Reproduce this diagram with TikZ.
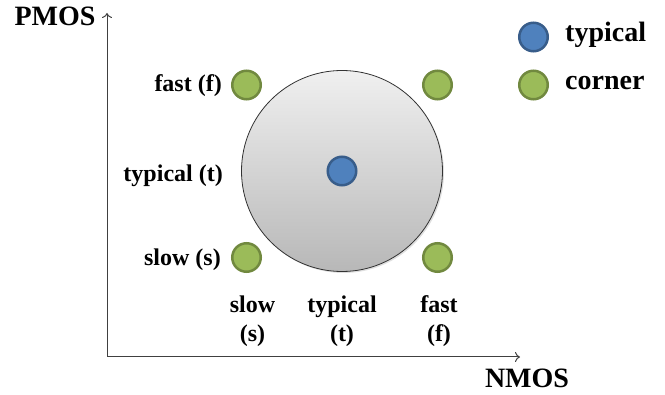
\documentclass[tikz,border=0pt]{standalone}
\usepackage{fontspec}
\setmainfont{Liberation Serif}
\usetikzlibrary{arrows.meta,shadows}
\definecolor{cgreen}{HTML}{9BBB59}
\definecolor{cgreenD}{HTML}{71893F}
\definecolor{cblue}{HTML}{4F81BD}
\definecolor{cblueD}{HTML}{385D8A}
\definecolor{axisgray}{HTML}{404040}
\tikzset{
  corner/.style={circle, fill=cgreen, draw=cgreenD, line width=2.5pt, minimum size=28.5pt, inner sep=0pt},
  typdot/.style={circle, fill=cblue, draw=cblueD, line width=2.5pt, minimum size=28.5pt, inner sep=0pt},
  lbl/.style={font=\fontsize{24}{29}\selectfont\bfseries, inner sep=0pt},
  big/.style={font=\fontsize{28}{32}\selectfont\bfseries, inner sep=0pt},
  axis/.style={draw=axisgray, line width=1pt, -{To[length=5pt,width=10pt]}},
}
\begin{document}
\begin{tikzpicture}[x=1pt,y=-1pt]
\useasboundingbox (0,0) rectangle (665,395);
% axes
\coordinate (O) at (107,357);
\coordinate (ytip) at (107,13);
\coordinate (xtip) at (520,357);
\draw[axis] (O) -- (ytip);
\draw[axis] (O) -- (xtip);
\node[big, anchor=base] (pmos) at (55,26) {PMOS};
\node[big, anchor=base] (nmos) at (527,388) {NMOS};
% big circle
\node[circle, minimum size=201pt, inner sep=0pt, draw=black!80, line width=0.8pt,
      top color=white!94!black, bottom color=white!72!black,
      drop shadow={opacity=0.25, shadow xshift=1.5pt, shadow yshift=-1.5pt}] (spread) at (342,171) {};
% dots
\node[typdot] (tt) at (342,171) {};
\node[corner] (ff) at (437.5,85) {};
\node[corner] (sf) at (246.5,85) {};
\node[corner] (ss) at (246.5,257.5) {};
\node[corner] (fs) at (437.5,257.5) {};
% left labels
\node[lbl, anchor=base east] (pf) at (222,92) {fast (f)};
\node[lbl, anchor=base east] (pt) at (223,182) {typical (t)};
\node[lbl, anchor=base east] (ps) at (221,266) {slow (s)};
% bottom labels
\node[lbl, align=center] (ns) at (252.5,321) {slow\\(s)};
\node[lbl, align=center] (nt) at (342,321) {typical\\(t)};
\node[lbl, align=center] (nf) at (439,321) {fast\\(f)};
% legend
\node[typdot] (legt) at (533.5,37) {};
\node[corner] (legc) at (533.5,85) {};
\node[big, anchor=base west] (legtt) at (565,42) {typical};
\node[big, anchor=base west] (legct) at (565,90) {corner};
\end{tikzpicture}
\end{document}
